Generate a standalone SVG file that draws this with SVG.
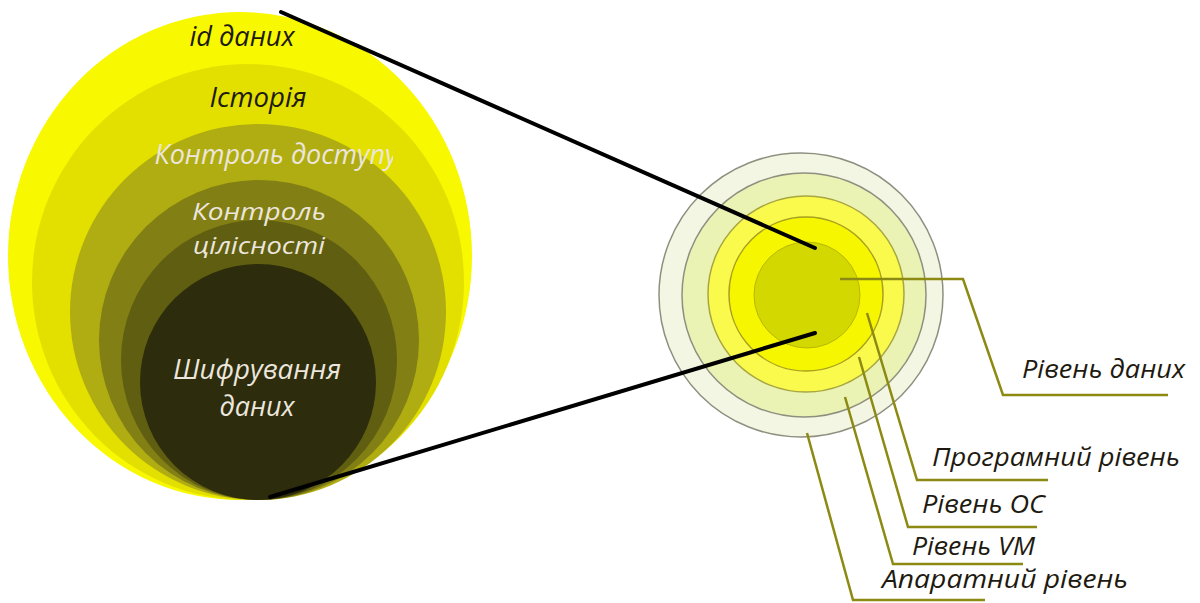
<svg xmlns="http://www.w3.org/2000/svg" width="1200" height="603" viewBox="0 0 1200 603">
<defs>
<clipPath id="bandclip"><rect x="0" y="0" width="393" height="603"/></clipPath>
</defs>
<style>
.t{font-family:"Open Sans","DejaVu Sans",sans-serif;font-style:italic;font-size:27px;text-anchor:middle}
.sm{font-size:24px}
.dk{fill:#1e1a10}
.lt{fill:#ece6dc}
.lbl{font-family:"Open Sans","DejaVu Sans",sans-serif;font-style:italic;font-size:26px;fill:#1e1a10}
.lead{fill:none;stroke:#8c8a12;stroke-width:2.5}
.ring{stroke:#8f8f80;stroke-width:1.5}
.conn{stroke:#000;stroke-width:4;stroke-linecap:round}
</style>
<rect width="1200" height="603" fill="#fff"/>
<g id="left-stack">
<ellipse cx="240" cy="256" rx="232" ry="244" fill="#f8f800"/>
<ellipse cx="248" cy="282" rx="216" ry="218" fill="#e3e000"/>
<ellipse cx="258" cy="312" rx="188" ry="188" fill="#b0ad12"/>
<ellipse cx="259" cy="340" rx="160" ry="160" fill="#827f14"/>
<ellipse cx="259" cy="360" rx="138" ry="140" fill="#605e10"/>
<ellipse cx="258" cy="382" rx="118" ry="118" fill="#2d2c0c"/>
</g>
<g id="left-labels">
<text class="t dk" x="242" y="46" textLength="105" lengthAdjust="spacingAndGlyphs">id даних</text>
<text class="t dk" x="258" y="107" textLength="97" lengthAdjust="spacingAndGlyphs">Історія</text>
<text class="t lt" x="276" y="164" clip-path="url(#bandclip)">Контроль доступу</text>
<text class="t sm lt" x="259" y="220" textLength="134" lengthAdjust="spacingAndGlyphs">Контроль</text>
<text class="t sm lt" x="259" y="254" textLength="132" lengthAdjust="spacingAndGlyphs">цілісності</text>
<text class="t lt" x="257" y="379" textLength="168" lengthAdjust="spacingAndGlyphs">Шифрування</text>
<text class="t lt" x="257" y="416">даних</text>
</g>
<g id="right-stack">
<circle class="ring" cx="801" cy="295" r="142" fill="#f3f6e2"/>
<circle class="ring" cx="804" cy="295" r="122" fill="#eaf2b4"/>
<circle cx="806" cy="294" r="98" fill="#fafa4c" stroke="#a8a640" stroke-width="1.5"/>
<circle cx="806" cy="294" r="77" fill="#f6f600" stroke="#a8a020" stroke-width="1.5"/>
<circle cx="807" cy="295" r="53" fill="#d2d800" stroke="#b8b800" stroke-width="1"/>
</g>
<g id="connectors">
<line class="conn" x1="281" y1="12" x2="815" y2="248"/>
<line class="conn" x1="270" y1="497" x2="815" y2="333"/>
<polyline class="lead" points="840,279 963,279 1003,395 1168,395"/>
<polyline class="lead" points="867,313 917,480 1048,480"/>
<polyline class="lead" points="859,357 908,527 1037,527"/>
<polyline class="lead" points="845,397 893,564 1023,564"/>
<polyline class="lead" points="807,433 853,600 985,600"/>
</g>
<g id="right-labels">
<text class="lbl" x="1022" y="378" textLength="163" lengthAdjust="spacingAndGlyphs">Рівень даних</text>
<text class="lbl" x="932" y="466" textLength="248" lengthAdjust="spacingAndGlyphs">Програмний рівень</text>
<text class="lbl" x="922" y="513" textLength="123" lengthAdjust="spacingAndGlyphs">Рівень ОС</text>
<text class="lbl" x="912" y="555" textLength="123" lengthAdjust="spacingAndGlyphs">Рівень VM</text>
<text class="lbl" x="882" y="588" textLength="246" lengthAdjust="spacingAndGlyphs">Апаратний рівень</text>
</g>
</svg>
